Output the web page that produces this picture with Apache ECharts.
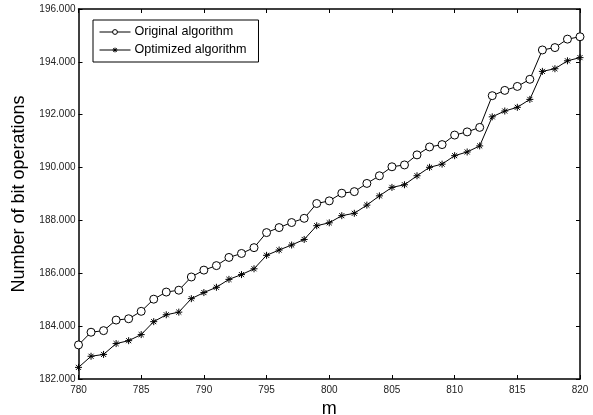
<!DOCTYPE html>
<html lang="en">
  <head>
    <meta charset="UTF-8" />
    <script
      type="text/javascript"
      src="https://cdn.jsdelivr.net/npm/echarts@6/dist/echarts.min.js"
    ></script>
    <style>
      html,
      body {
        margin: 0;
        overflow: hidden;
        background: #fff;
      }
      #viewport {
        position: absolute;
        left: 0px;
        top: 0px;
        width: 593px;
        height: 415px;
      }
    </style>
  </head>
  <body>
    <div id="viewport"></div>
    <script>
      // m values (x axis)
      var mValues = [
        780, 781, 782, 783, 784, 785, 786, 787, 788, 789, 790, 791, 792, 793,
        794, 795, 796, 797, 798, 799, 800, 801, 802, 803, 804, 805, 806, 807,
        808, 809, 810, 811, 812, 813, 814, 815, 816, 817, 818, 819, 820
      ];

      // number of bit operations
      var originalOps = [
        183290, 183770, 183830, 184230, 184280, 184560, 185020, 185290, 185360,
        185860, 186120, 186290, 186600, 186750, 186970, 187540, 187730, 187920,
        188080, 188640, 188740, 189030, 189090, 189400, 189690, 190030, 190100,
        190480, 190780, 190870, 191230, 191350, 191520, 192720, 192920, 193070,
        193340, 194450, 194540, 194860, 194950
      ];
      var optimizedOps = [
        182440, 182860, 182930, 183340, 183450, 183680, 184170, 184430, 184530,
        185040, 185270, 185470, 185770, 185950, 186170, 186680, 186880, 187070,
        187280, 187800, 187910, 188180, 188270, 188580, 188930, 189250, 189350,
        189690, 190010, 190130, 190450, 190590, 190820, 191920, 192140, 192280,
        192580, 193640, 193740, 194040, 194160
      ];

      var seriesNames = ['Original algorithm', 'Optimized algorithm'];

      function pairs(ys) {
        return mValues.map(function (m, i) {
          return [m, ys[i]];
        });
      }

      var fontFamily = 'Liberation Sans, Arial, sans-serif';
      var asterisk =
        'path://M0,-5L0,5M-5,0L5,0M-3.6,-3.6L3.6,3.6M-3.6,3.6L3.6,-3.6';

      var boxLine = { show: true, lineStyle: { color: '#000', width: 1.5 } };
      var inTicks = { show: true, inside: true, length: 4, lineStyle: { color: '#000' } };

      var myChart = echarts.init(document.getElementById('viewport'), null, {
        renderer: 'canvas'
      });

      var option = {
        animation: false,
        backgroundColor: '#fff',
        textStyle: { fontFamily: fontFamily },
        grid: {
          left: 78.5,
          right: 13,
          top: 9,
          bottom: 36,
          containLabel: false,
          outerBoundsMode: 'none'
        },
        legend: {
          orient: 'vertical',
          left: 93,
          top: 20,
          padding: [5, 12, 5, 6],
          itemGap: 4,
          itemWidth: 31,
          itemHeight: 6,
          itemStyle: { borderWidth: 1 },
          lineStyle: { width: 1 },
          borderColor: '#000',
          borderWidth: 1,
          backgroundColor: '#fff',
          textStyle: {
            fontFamily: fontFamily,
            fontSize: 12.6,
            color: '#000',
            lineHeight: 14,
            padding: [0, 0, 0, -1]
          },
          data: seriesNames
        },
        xAxis: [
          {
            type: 'value',
            min: 780,
            max: 820,
            interval: 5,
            name: 'm',
            nameLocation: 'middle',
            nameGap: 20,
            nameTextStyle: { fontSize: 18, color: '#000', fontFamily: fontFamily },
            axisLine: boxLine,
            axisTick: inTicks,
            splitLine: { show: false },
            axisLabel: { fontSize: 10, color: '#222', margin: 6, fontFamily: fontFamily }
          },
          {
            type: 'value',
            position: 'top',
            min: 780,
            max: 820,
            interval: 5,
            axisLine: boxLine,
            axisTick: inTicks,
            splitLine: { show: false },
            axisLabel: { show: false }
          }
        ],
        yAxis: [
          {
            type: 'value',
            min: 182000,
            max: 196000,
            interval: 2000,
            name: 'Number of bit operations',
            nameLocation: 'middle',
            nameGap: 42,
            nameTextStyle: { fontSize: 18, color: '#000', fontFamily: fontFamily },
            axisLine: boxLine,
            axisTick: inTicks,
            splitLine: { show: false },
            axisLabel: {
              fontSize: 10,
              color: '#222',
              margin: 3,
              fontFamily: fontFamily,
              formatter: function (v) {
                return v / 1000 + '.000';
              }
            }
          },
          {
            type: 'value',
            position: 'right',
            min: 182000,
            max: 196000,
            interval: 2000,
            axisLine: boxLine,
            axisTick: inTicks,
            splitLine: { show: false },
            axisLabel: { show: false }
          }
        ],
        series: [
          {
            name: seriesNames[0],
            type: 'line',
            data: pairs(originalOps),
            symbol: 'circle',
            symbolSize: 8,
            lineStyle: { color: '#000', width: 1 },
            itemStyle: { color: '#fff', borderColor: '#000', borderWidth: 1 }
          },
          {
            name: seriesNames[1],
            type: 'line',
            data: pairs(optimizedOps),
            symbol: asterisk,
            symbolSize: 7,
            lineStyle: { color: '#000', width: 1 },
            itemStyle: { color: '#000', borderColor: '#000', borderWidth: 1 }
          }
        ]
      };

      myChart.setOption(option);
    </script>
  </body>
</html>
